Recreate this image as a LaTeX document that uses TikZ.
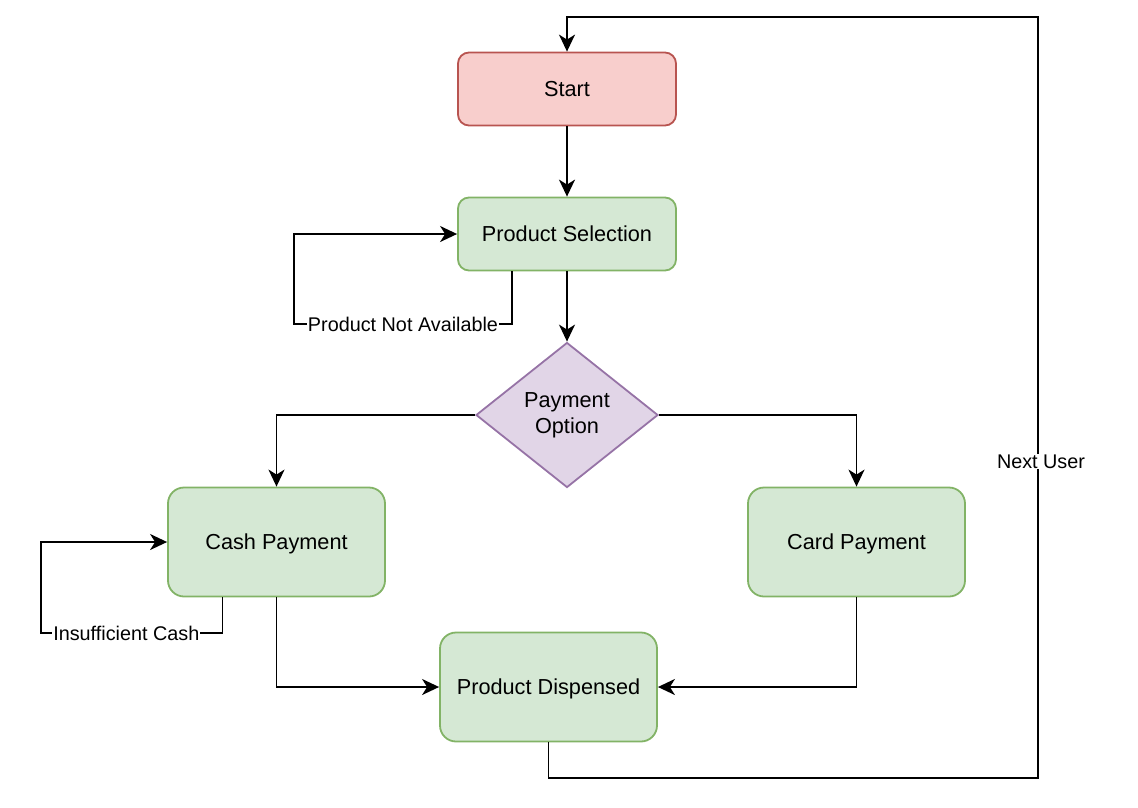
\documentclass[tikz,border=0pt]{standalone}
\usepackage{fontspec}
\setmainfont{Liberation Sans}
\usetikzlibrary{arrows.meta,shapes.geometric}
\definecolor{redfill}{HTML}{F8CECC}
\definecolor{redline}{HTML}{B85450}
\definecolor{greenfill}{HTML}{D5E8D4}
\definecolor{greenline}{HTML}{82B366}
\definecolor{purplefill}{HTML}{E1D5E7}
\definecolor{purpleline}{HTML}{9673A6}

\begin{document}
\begin{tikzpicture}[x=1pt,y=1pt]
\tikzstyle{every node}+=[inner sep=0pt]
\tikzstyle{box}=[rectangle, line width=1.8pt, align=center, text depth=0pt, font=\fontsize{21.7}{26}\selectfont]
\tikzstyle{smallbox}=[box, rounded corners=11pt, minimum width=218pt, minimum height=73pt]
\tikzstyle{bigbox}=[box, rounded corners=16pt, minimum width=217pt, minimum height=109pt, draw=greenline, fill=greenfill]
\tikzstyle{flow}=[draw, line width=1.8pt, -{Stealth[length=17pt,width=16pt,inset=5pt]}]
\tikzstyle{lbl}=[fill=white, inner sep=1pt, font=\fontsize{19.8}{23}\selectfont]
\useasboundingbox (0,0) rectangle (1138,-807);
\node [smallbox, draw=redline, fill=redfill] (start) at (567,-89) {Start};
\node [smallbox, draw=greenline, fill=greenfill] (select) at (567,-234) {Product Selection};
\node [diamond, aspect=1.25, line width=1.8pt, draw=purpleline, fill=purplefill, minimum width=182pt, minimum height=145pt, align=center, font=\fontsize{21.7}{26}\selectfont] (payopt) at (567,-415) {Payment\\Option};
\node [bigbox] (cash) at (276.5,-542) {Cash Payment};
\node [bigbox] (card) at (856.5,-542) {Card Payment};
\node [bigbox] (dispense) at (548.5,-687) {Product Dispensed};
\coordinate (nalow) at (294,-324);
\coordinate (iclow) at (41,-633);
\coordinate (nubr) at (1038,-778);
\coordinate (nutr) at (1038,-17);
\draw [flow] (start) -- (select);
\draw [flow] (select) -- (payopt);
\draw [flow] ([xshift=-55pt]select.south) |- node [lbl, pos=0.75] {Product Not Available} (nalow) |- (select.west);
\draw [flow] (payopt.west) -| (cash.north);
\draw [flow] (payopt.east) -| (card.north);
\draw [flow] ([xshift=-54pt]cash.south) |- node [lbl, pos=0.765] {Insufficient Cash} (iclow) |- (cash.west);
\draw [flow] (cash.south) |- (dispense.west);
\draw [flow] (card.south) |- (dispense.east);
\draw [flow] (dispense.south) |- (nubr) -- node [lbl, pos=0.416, xshift=3pt] {Next User} (nutr) -| (start.north);
\end{tikzpicture}
\end{document}
